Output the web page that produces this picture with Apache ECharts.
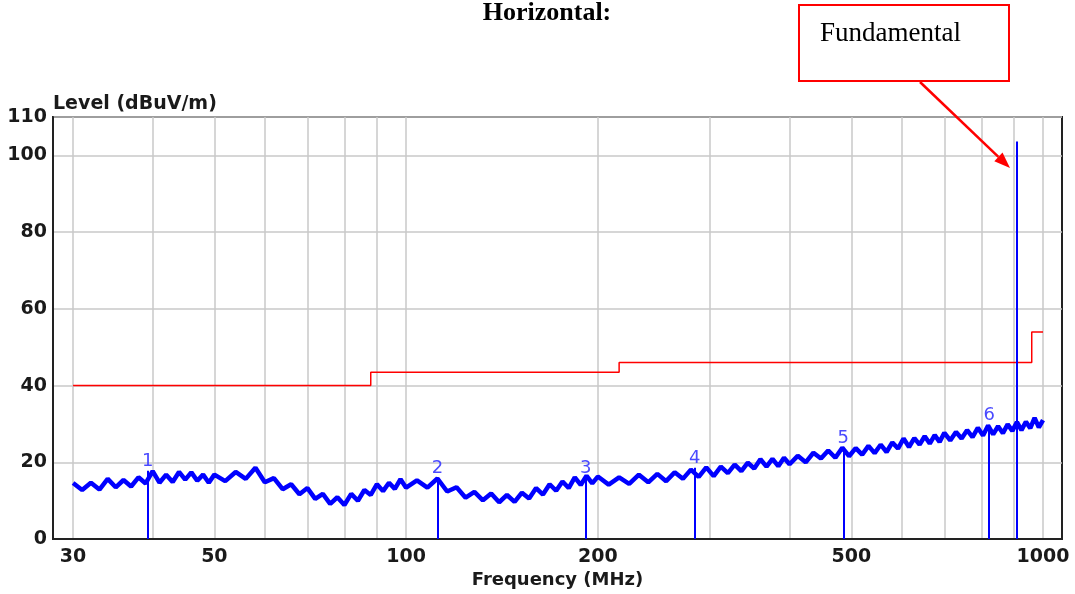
<!DOCTYPE html>
<html>
<head>
<meta charset="utf-8">
<script src="https://cdn.jsdelivr.net/npm/echarts@6/dist/echarts.min.js"></script>
<style>
  html, body { margin: 0; padding: 0; background: #fff; }
  #container { width: 1075px; height: 594px; }
</style>
</head>
<body>
<div id="container"></div>
<script>
    // scan trace (MHz / dBuV/m)
    var traceFreq = [
        30,31,32,33,34,35,36,37,38,39,40,41,42,43,44,45,46,47,48,49,50,
        52,54,56,58,60,62,64,66,68,70,72,74,76,78,80,82,84,86,88,90,92,94,96,98,100,
        104,108,112,116,120,124,128,132,136,140,144,148,152,156,160,164,168,172,176,180,184,188,192,196,200,
        208,216,224,232,240,248,256,264,272,280,288,296,304,312,320,328,336,344,352,360,368,376,384,392,400,
        412,424,436,448,460,472,484,496,508,520,532,544,556,568,580,592,604,616,628,640,652,664,676,688,700,
        715,730,745,760,775,790,805,820,835,850,865,880,895,910,925,940,955,970,985,1000
    ];
    var traceLevel = [
        14.6,12.8,14.7,12.9,15.7,13.5,15.4,13.7,16.1,14.5,17.7,14.7,16.8,14.9,17.5,15.5,17.4,15.2,16.8,14.7,16.8,
        15.1,17.5,15.7,18.6,14.8,15.9,13.0,14.3,11.7,13.3,10.5,11.8,9.2,10.9,8.9,11.8,10.0,12.8,11.5,14.3,12.5,14.7,13.1,15.6,13.4,
        15.3,13.4,15.8,12.4,13.5,10.8,12.3,10.1,11.9,9.6,11.5,9.7,12.1,10.6,13.3,11.6,14.3,12.6,15.0,13.3,16.1,14.1,16.5,14.5,16.3,
        14.2,16.1,14.4,16.8,14.8,17.0,15.1,17.4,15.7,18.1,16.2,18.7,16.4,18.9,17.2,19.4,17.7,19.9,18.4,20.8,18.9,20.9,19.0,21.2,19.5,
        21.7,20.0,22.5,21.0,23.1,21.2,23.8,21.6,23.7,22.0,24.3,22.4,24.6,22.7,25.2,23.6,26.2,24.0,26.3,24.6,26.8,24.9,27.1,25.3,27.7,
        25.7,27.9,26.2,28.4,26.6,29.0,27.0,29.6,27.3,29.4,27.6,29.9,28.2,30.5,28.4,30.6,28.9,31.6,29.1,31.0
    ];

    // limit line
    var limitFreq = [30, 88, 216, 960, 1000];
    var limitLevel = [40, 43.5, 46, 54, 54];

    // marked peaks
    var markerFreq = [39.3, 112, 191.4, 284, 485.8, 823];
    var markerLevel = [17.8, 16, 16, 18.6, 23.8, 29.8];
    var markerNames = ['1', '2', '3', '4', '5', '6'];
    var fundamentalFreq = 910;
    var fundamentalLevel = 103.6;

    // axis
    var gridFreqs = [30,40,50,60,70,80,90,100,200,300,400,500,600,700,800,900,1000];
    var xLabels = [30, 50, 100, 200, 500, 1000];

    var dom = document.getElementById("container");
    var myChart = echarts.init(dom);

    var traceData = traceFreq.map(function (f, i) { return [f, traceLevel[i]]; });
    var limitData = limitFreq.map(function (f, i) { return [f, limitLevel[i]]; });

    var markerLines = markerFreq.map(function (f, i) {
        return [
            { coord: [f, 0], label: { show: true, formatter: markerNames[i] } },
            { coord: [f, markerLevel[i]] }
        ];
    });
    markerLines.push([
        { coord: [fundamentalFreq, 0], label: { show: false } },
        { coord: [fundamentalFreq, fundamentalLevel] }
    ]);

    var tickFont = {
        fontFamily: 'DejaVu Sans',
        fontWeight: 'bold',
        fontSize: 19,
        color: '#1a1a1a'
    };

    var option = {
        animation: false,
        backgroundColor: '#fff',
        grid: {
            left: 53, right: 13, top: 117, bottom: 52,
            show: true,
            borderColor: '#222',
            borderWidth: 2
        },
        xAxis: {
            type: 'log',
            logBase: 10,
            min: 27.9,
            max: 1071,
            name: 'Frequency (MHz)',
            nameLocation: 'middle',
            nameGap: 25,
            nameTextStyle: {
                fontFamily: 'DejaVu Sans',
                fontWeight: 'bold',
                fontSize: 18,
                color: '#1a1a1a'
            },
            axisLine: { lineStyle: { color: '#222', width: 2 } },
            axisTick: { show: false, customValues: gridFreqs },
            axisLabel: Object.assign({
                customValues: xLabels,
                margin: 8,
                formatter: function (v) { return String(Math.round(v)); }
            }, tickFont),
            splitLine: { show: true, lineStyle: { color: '#c8c8c8', width: 1.5 } }
        },
        yAxis: {
            type: 'value',
            min: 0,
            max: 110,
            interval: 20,
            axisLine: { show: true, lineStyle: { color: '#222', width: 2 } },
            axisTick: { show: false },
            axisLabel: Object.assign({ margin: 6 }, tickFont),
            splitLine: { show: true, lineStyle: { color: '#c8c8c8', width: 1.5 } }
        },
        graphic: [
            {
                type: 'text', x: 547, y: 13,
                style: { text: 'Horizontal:', font: 'bold 26px "Liberation Serif"', fill: '#000', align: 'center', verticalAlign: 'middle' }
            },
            {
                type: 'text', x: 53, y: 104,
                style: { text: 'Level (dBuV/m)', font: 'bold 19px "DejaVu Sans"', fill: '#1a1a1a', align: 'left', verticalAlign: 'middle' }
            },
            {
                type: 'rect',
                shape: { x: 799, y: 5, width: 210, height: 76 },
                style: { fill: '#fff', stroke: '#ff0000', lineWidth: 2 }
            },
            {
                type: 'text', x: 820, y: 34,
                style: { text: 'Fundamental', font: '27px "Liberation Serif"', fill: '#000', align: 'left', verticalAlign: 'middle' }
            },
            {
                type: 'line',
                shape: { x1: 920, y1: 82, x2: 998.4, y2: 156.9 },
                style: { stroke: '#ff0000', lineWidth: 2.5 },
                z: 100
            },
            {
                type: 'polygon',
                shape: { points: [[1010, 168], [994.3, 161.2], [1002.5, 152.6]] },
                style: { fill: '#ff0000' },
                z: 100
            }
        ],
        series: [
            {
                name: 'Limit',
                type: 'line',
                step: 'end',
                data: limitData,
                showSymbol: false,
                lineStyle: { color: '#ff0000', width: 1.5 },
                z: 2
            },
            {
                name: 'Markers',
                type: 'scatter',
                data: markerFreq.map(function (f, i) { return [f, markerLevel[i]]; }),
                symbolSize: 0,
                z: 3,
                markLine: {
                    silent: true,
                    symbol: ['none', 'none'],
                    lineStyle: { color: '#0000ff', width: 2, type: 'solid' },
                    label: {
                        position: 'end',
                        distance: 0,
                        color: '#4a4aff',
                        fontFamily: 'DejaVu Sans',
                        fontSize: 18
                    },
                    data: markerLines
                }
            },
            {
                name: 'Level',
                type: 'line',
                data: traceData,
                showSymbol: false,
                lineStyle: { color: '#0000ff', width: 4.5 },
                z: 4
            }
        ]
    };

    if (option && typeof option === "object") {
        myChart.setOption(option, true);
    }
</script>
</body>
</html>
